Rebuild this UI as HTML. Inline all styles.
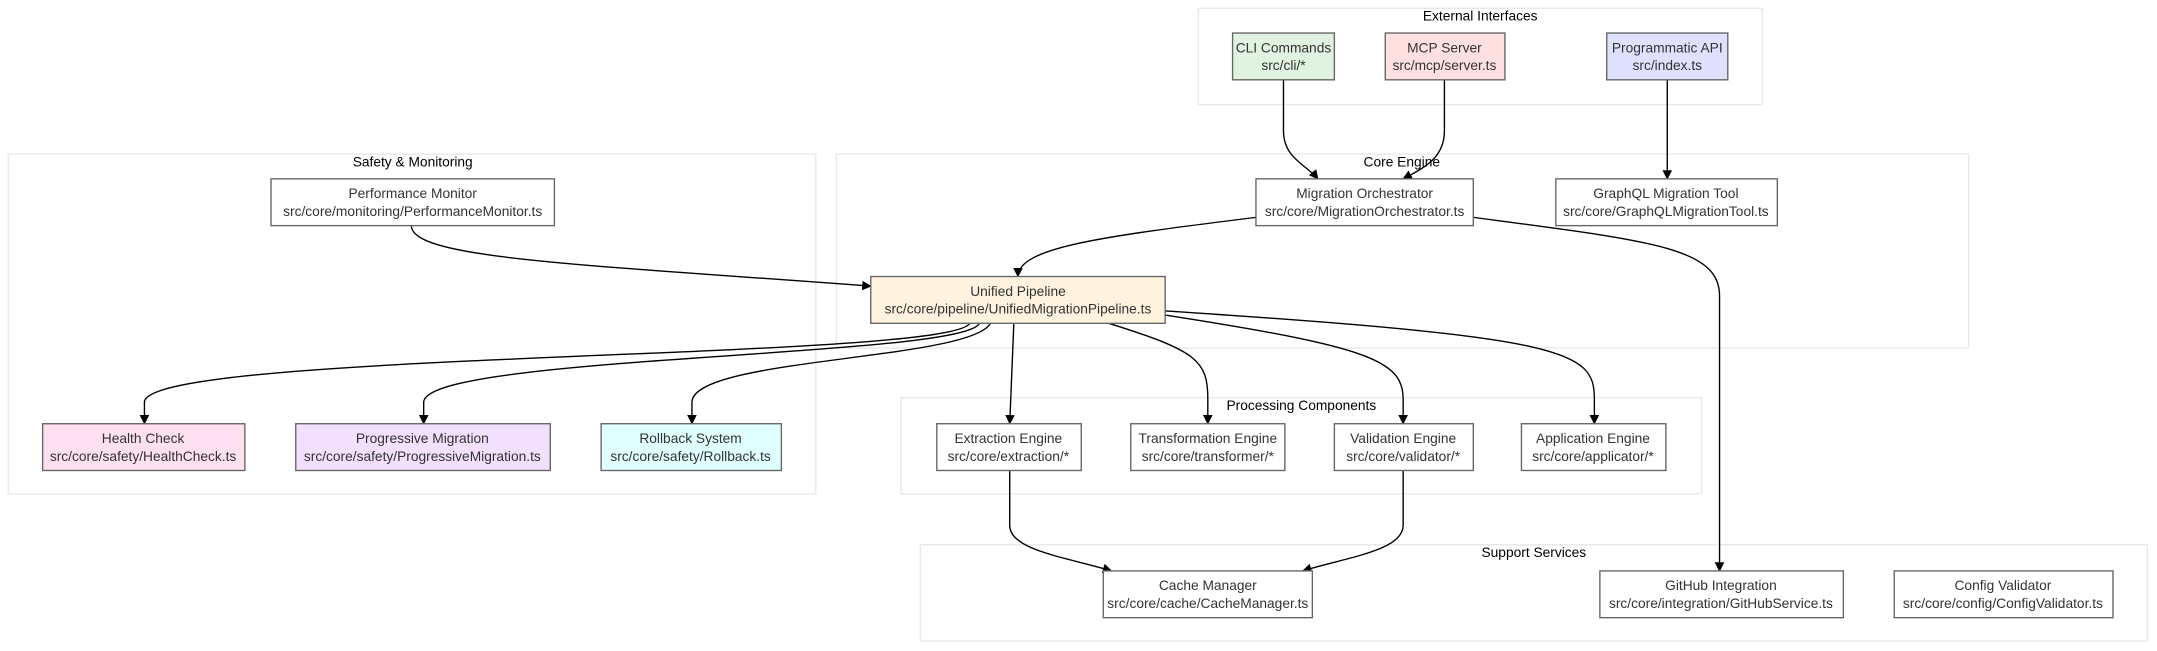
<!DOCTYPE html>
<html><head><meta charset="utf-8"><style>
html,body{margin:0;padding:0;background:#fff;}
svg{display:block;}
text{font-family:"Liberation Sans",sans-serif;font-size:10px;fill:#333;}
.t{fill:#000;}
.c{fill:none;stroke:#e8e8e8;stroke-width:1;}
.n{stroke:#666;stroke-width:1;}
.e{fill:none;stroke:#000;stroke-width:1;marker-end:url(#a);}
</style></head><body>
<svg width="2157" height="651" viewBox="0 0 1568 473.2" xmlns="http://www.w3.org/2000/svg">
<defs><marker id="a" viewBox="0 0 10 10" refX="9" refY="5" markerWidth="7" markerHeight="7" orient="auto" markerUnits="userSpaceOnUse"><path d="M0,0 L10,5 L0,10 z" fill="#000"/></marker></defs>
<rect width="1568" height="474" fill="#fff"/>
<!-- clusters -->
<rect class="c" x="871" y="6" width="410" height="70"/>
<text class="t" x="1076" y="15" text-anchor="middle">External Interfaces</text>
<rect class="c" x="608" y="112" width="823" height="141"/>
<text class="t" x="1019" y="121" text-anchor="middle">Core Engine</text>
<rect class="c" x="6" y="112" width="587" height="247"/>
<text class="t" x="300" y="121" text-anchor="middle">Safety &amp; Monitoring</text>
<rect class="c" x="655" y="289" width="582" height="70"/>
<text class="t" x="946" y="298" text-anchor="middle">Processing Components</text>
<rect class="c" x="669" y="396" width="892" height="70"/>
<text class="t" x="1115" y="405" text-anchor="middle">Support Services</text>
<!-- edges -->
<path class="e" d="M933,58 L933,95 C933,115 950,120 958,130"/>
<path class="e" d="M1050,58 L1050,95 C1050,115 1035,122 1020,130"/>
<path class="e" d="M1212,58 L1212,130"/>
<path class="e" d="M913,158 C800,172 740,180 740,201"/>
<path class="e" d="M1071,158 C1200,175 1250,180 1250,215 L1250,415"/>
<path class="e" d="M299,164 C299,188 420,192 633,208"/>
<path class="e" d="M705,235 C690,262 110,255 105,292 L105,308"/>
<path class="e" d="M712,235 C700,260 312,258 308,292 L308,308"/>
<path class="e" d="M720,235 C705,262 505,260 503,292 L503,308"/>
<path class="e" d="M737,235 L734,308"/>
<path class="e" d="M806,235 C870,255 878,262 878,290 L878,308"/>
<path class="e" d="M847,229 C995,252 1020,262 1020,290 L1020,308"/>
<path class="e" d="M847,226 C1140,245 1159,255 1159,290 L1159,308"/>
<path class="e" d="M734,342 L734,382 C734,400 775,405 808,415"/>
<path class="e" d="M1020,342 L1020,382 C1020,400 980,405 947,415"/>
<!-- nodes -->
<g text-anchor="middle">
<rect class="n" x="896" y="24" width="74" height="34" fill="#e0f2e0"/><text x="933" y="38">CLI Commands</text><text x="933" y="51">src/cli/*</text>
<rect class="n" x="1007" y="24" width="87" height="34" fill="#ffe0e0"/><text x="1050" y="38">MCP Server</text><text x="1050" y="51">src/mcp/server.ts</text>
<rect class="n" x="1168" y="24" width="88" height="34" fill="#e0e0ff"/><text x="1212" y="38">Programmatic API</text><text x="1212" y="51">src/index.ts</text>
<rect class="n" x="913" y="130" width="158" height="34" fill="#fff"/><text x="992" y="144">Migration Orchestrator</text><text x="992" y="157">src/core/MigrationOrchestrator.ts</text>
<rect class="n" x="1131" y="130" width="161" height="34" fill="#fff"/><text x="1211" y="144">GraphQL Migration Tool</text><text x="1211" y="157">src/core/GraphQLMigrationTool.ts</text>
<rect class="n" x="633" y="201" width="214" height="34" fill="#fff3e0"/><text x="740" y="215">Unified Pipeline</text><text x="740" y="228">src/core/pipeline/UnifiedMigrationPipeline.ts</text>
<rect class="n" x="197" y="130" width="206" height="34" fill="#fff"/><text x="300" y="144">Performance Monitor</text><text x="300" y="157">src/core/monitoring/PerformanceMonitor.ts</text>
<rect class="n" x="31" y="308" width="147" height="34" fill="#ffe0f0"/><text x="104" y="322">Health Check</text><text x="104" y="335">src/core/safety/HealthCheck.ts</text>
<rect class="n" x="215" y="308" width="185" height="34" fill="#f3e0ff"/><text x="307" y="322">Progressive Migration</text><text x="307" y="335">src/core/safety/ProgressiveMigration.ts</text>
<rect class="n" x="437" y="308" width="131" height="34" fill="#e0ffff"/><text x="502" y="322">Rollback System</text><text x="502" y="335">src/core/safety/Rollback.ts</text>
<rect class="n" x="681" y="308" width="105" height="34" fill="#fff"/><text x="733" y="322">Extraction Engine</text><text x="733" y="335">src/core/extraction/*</text>
<rect class="n" x="822" y="308" width="112" height="34" fill="#fff"/><text x="878" y="322">Transformation Engine</text><text x="878" y="335">src/core/transformer/*</text>
<rect class="n" x="970" y="308" width="101" height="34" fill="#fff"/><text x="1020" y="322">Validation Engine</text><text x="1020" y="335">src/core/validator/*</text>
<rect class="n" x="1106" y="308" width="105" height="34" fill="#fff"/><text x="1158" y="322">Application Engine</text><text x="1158" y="335">src/core/applicator/*</text>
<rect class="n" x="802" y="415" width="152" height="34" fill="#fff"/><text x="878" y="429">Cache Manager</text><text x="878" y="442">src/core/cache/CacheManager.ts</text>
<rect class="n" x="1163" y="415" width="177" height="34" fill="#fff"/><text x="1251" y="429">GitHub Integration</text><text x="1251" y="442">src/core/integration/GitHubService.ts</text>
<rect class="n" x="1377" y="415" width="159" height="34" fill="#fff"/><text x="1456" y="429">Config Validator</text><text x="1456" y="442">src/core/config/ConfigValidator.ts</text>
</g>
</svg>
</body></html>
